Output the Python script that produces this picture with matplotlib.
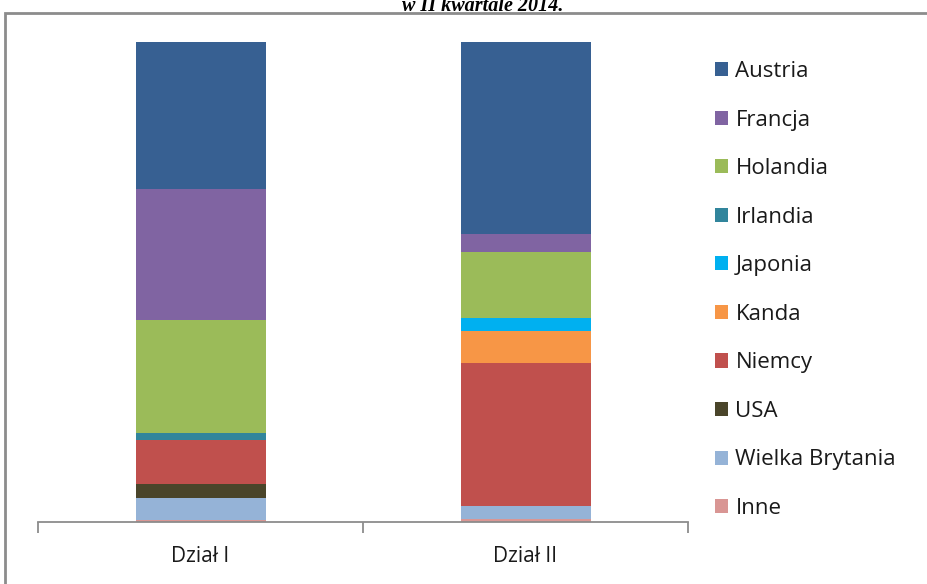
import matplotlib
matplotlib.use("Agg")
import matplotlib.pyplot as plt
from matplotlib.patches import Rectangle
import numpy as np

categories = ["Dział I", "Dział II"]
series_names = ["Inne", "Wielka Brytania", "USA", "Niemcy", "Kanda", "Japonia",
                "Irlandia", "Holandia", "Francja", "Austria"]
inne = [0.5, 0.6]
wielka_brytania = [4.5, 2.8]
usa = [3.0, 0.0]
niemcy = [9.0, 29.7]
kanda = [0.0, 6.7]
japonia = [0.0, 2.8]
irlandia = [1.5, 0.0]
holandia = [23.5, 13.6]
francja = [27.3, 3.7]
austria = [30.8, 40.1]
title_text = "w II kwartale 2014."

values = [inne, wielka_brytania, usa, niemcy, kanda, japonia, irlandia, holandia, francja, austria]
colors = ["#D99694", "#95B3D7", "#4A452A", "#C0504D", "#F79646", "#00B0F0",
          "#31859C", "#9BBB59", "#8064A2", "#376092"]

plt.rcParams['font.family'] = ['Open Sans', 'DejaVu Sans']

fig = plt.figure(figsize=(9.28, 5.84), dpi=100)
ax = fig.add_axes([38/928, 62/584, 650/928, 480/584])

x = np.arange(len(categories))
bottom = np.zeros(len(categories))
handles = {}
for name, vals, col in zip(series_names, values, colors):
    v = np.array(vals)
    b = ax.bar(x, v, bottom=bottom, width=0.4, color=col, edgecolor='none', label=name)
    handles[name] = b
    bottom += v

ax.set_xlim(-0.5, 1.5)
ax.set_ylim(0, 100)
ax.set_yticks([])
for s in ['top', 'right', 'left']:
    ax.spines[s].set_visible(False)
ax.spines['bottom'].set_color('#8C8C8C')
ax.spines['bottom'].set_linewidth(1.3)
ax.set_xticks([-0.5, 0.5, 1.5])
ax.set_xticklabels([])
ax.set_xticks(x, minor=True)
ax.set_xticklabels(categories, minor=True, fontsize=15, color='#1a1a1a')
ax.tick_params(axis='x', which='major', length=8, width=1.3, color='#8C8C8C', direction='out')
ax.tick_params(axis='x', which='minor', length=0, pad=17)

order = list(reversed(series_names))
leg = fig.legend([handles[n] for n in order], order, loc='upper left',
                 bbox_to_anchor=(715/928, 1 - 61/584), frameon=False,
                 fontsize=16, handlelength=0.6, handleheight=0.6,
                 handletextpad=0.32, labelspacing=1.24, borderaxespad=0, borderpad=0)
for t in leg.get_texts():
    t.set_color('#1a1a1a')

# chart frame
fig.patches.append(Rectangle((5/928, -0.05), 1.0, 1 - 13/584 + 0.05, transform=fig.transFigure,
                             fill=False, edgecolor='#8C8C8C', linewidth=2))

fig.text(483/928, 1 - 11/584, title_text, ha='center', va='baseline',
         fontsize=14.5, fontweight='bold', fontstyle='italic', family='Liberation Serif')

fig.savefig("out.png", dpi=100)
